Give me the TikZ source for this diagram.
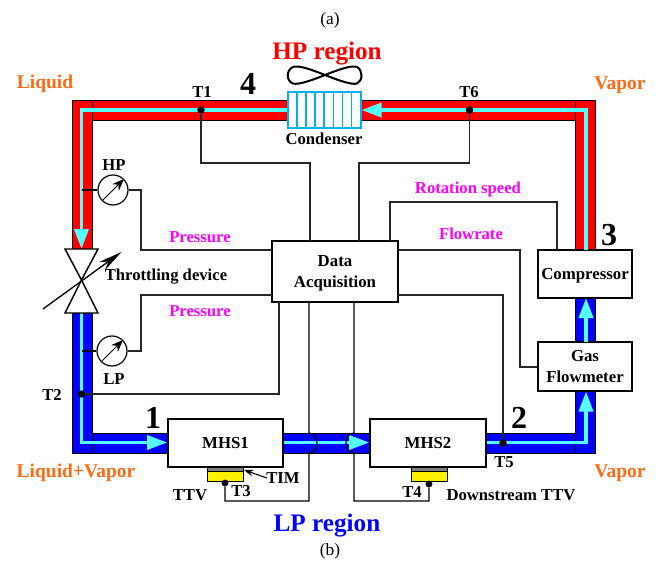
\documentclass[tikz,border=0pt]{standalone}
\usepackage{fontspec}
\setmainfont{Liberation Serif}
\usetikzlibrary{arrows.meta,calc}
\definecolor{flowc}{HTML}{55FFFF}
\definecolor{condc}{HTML}{00B0F0}
\definecolor{orangec}{HTML}{FF6A13}
\definecolor{timc}{HTML}{7F7F7F}
\definecolor{magentac}{HTML}{FF00FF}
\tikzset{
  x=0.75pt,y=-0.75pt,
  pipehot/.style={fill=red,draw=black,line width=0.6pt},
  pipecold/.style={fill=blue,draw=black,line width=0.6pt},
  flowarrow/.style={draw=flowc,line width=2.6pt,-{Triangle[length=15pt,width=10.5pt,fill=flowc]}},
  wire/.style={draw=black!85,line width=0.8pt},
  sensor/.style={circle,fill=black,inner sep=0pt,minimum size=5.2pt},
  box/.style={draw=black,line width=1.2pt,fill=white,inner sep=0pt,align=center,text depth=0pt,font=\bfseries\fontsize{12.6}{15}\selectfont},
  gauge/.style={circle,draw=black,line width=0.9pt,fill=white,inner sep=0pt,minimum size=22.5pt},
  lab/.style={inner sep=0pt,font=\bfseries\fontsize{12.5}{13}\selectfont},
  magentalab/.style={inner sep=0pt,text=magentac,font=\bfseries\fontsize{12.5}{13}\selectfont},
  orangelab/.style={inner sep=0pt,text=orangec,font=\bfseries\fontsize{14.6}{15}\selectfont},
  numlab/.style={inner sep=0pt,font=\bfseries\fontsize{24}{28}\selectfont},
  regionlab/.style={inner sep=0pt,font=\bfseries\fontsize{18.9}{20}\selectfont},
  capt/.style={inner sep=0pt,font=\fontsize{13}{15}\selectfont},
}
\begin{document}
\begin{tikzpicture}
\useasboundingbox (0,0) rectangle (660,563);
% pipes
\draw[pipehot] (92,100) rectangle (288,120);
\draw[pipehot] (72,100) rectangle (92,249);
\draw[pipehot] (361,100) rectangle (575,120);
\draw[pipehot] (575,100) rectangle (595,250);
\draw[pipecold] (72,313) rectangle (92,453);
\draw[pipecold] (92,433) rectangle (168,453);
\draw[pipecold] (283,433) rectangle (370,453);
\draw[pipecold] (486,433) rectangle (575,453);
\draw[pipecold] (575,391) rectangle (595,453);
\draw[pipecold] (575,298) rectangle (595,342);
% condenser
\node[draw=condc,line width=1.2pt,fill=white,minimum width=54.4pt,minimum height=27pt,inner sep=0pt] (cond) at (324.5,110) {};
\foreach \i in {1,...,7} \draw[condc,line width=1.2pt] (288+\i*9.06,92) -- (288+\i*9.06,128);
% fan
\draw[black,line width=1.5pt] (325,75) .. controls (310,69) and (298,65) .. (293,67) .. controls (286,70) and (286,81) .. (293,83.5) .. controls (298,85) and (310,81) .. (325,75)
  .. controls (340,69) and (352,65) .. (357,67) .. controls (363,70) and (363,81) .. (357,83.5) .. controls (352,85) and (340,81) .. (325,75);
% main boxes
\node[box,minimum width=94.5pt,minimum height=45.7pt] (daq) at (335,271.5) {Data\\[1pt]Acquisition};
\node[box,minimum width=70.5pt,minimum height=36pt] (comp) at (585,274) {Compressor};
\node[box,minimum width=70.5pt,minimum height=36.7pt] (gas) at (585,366.5) {Gas\\[1pt]Flowmeter};
\node[box,minimum width=86.3pt,minimum height=36pt] (mhsa) at (225.5,443) {MHS1};
\node[box,minimum width=87pt,minimum height=36pt] (mhsb) at (428,443) {MHS2};
% TTV stacks
\draw[black,line width=0.7pt,fill=timc] (207,467) rectangle (243,471.5);
\draw[black,line width=0.7pt,fill=yellow] (207,471.5) rectangle (243,481);
\draw[black,line width=0.7pt,fill=timc] (411,467) rectangle (447,471.5);
\draw[black,line width=0.7pt,fill=yellow] (411,471.5) rectangle (447,481);
% sensor points
\node[sensor] (tone) at (201,110) {};
\node[sensor] (tsix) at (469.5,110) {};
\node[sensor] (ttwo) at (81.5,394) {};
\node[sensor] (tthree) at (225,483) {};
\node[sensor] (tfour) at (429,484) {};
\node[sensor] (tfive) at (503,443) {};
% flow lines
\coordinate (vtop) at (81.5,249);
\coordinate (vbot) at (81.5,313);
\draw[flowarrow] (cond.west) -- (81.5,110) -- (vtop);
\draw[flowarrow] (vbot) -- (81.5,442.5) -- (mhsa.west |- 0,442.5);
\draw[flowarrow] (mhsa.east |- 0,442.5) -- (mhsb.west |- 0,442.5);
\draw[flowarrow] (mhsb.east |- 0,442.5) -- (586,442.5) -- (586,391.5);
\draw[flowarrow] (586,342) -- (586,298);
\draw[flowarrow] (586,250) -- (586,110) -- (cond.east);
% sensors redrawn above the flow lines
\fill (tone) circle (2.8pt) (tsix) circle (2.8pt) (ttwo) circle (2.8pt) (tfive) circle (2.8pt);
% valve
\coordinate (vmid) at (81.5,280);
\draw[black,line width=1.1pt,fill=white,line join=miter] (65,249) -- (98,249) -- (vmid) -- cycle;
\draw[black,line width=1.1pt,fill=white,line join=miter] (65,313) -- (98,313) -- (vmid) -- cycle;
\coordinate (vtail) at (43,309);
\coordinate (vtip) at (121.5,252);
\draw[black,line width=1pt,-{Stealth[length=18pt,width=7.5pt]}] (vtail) -- (vtip);
% gauges
\node[gauge] (hp) at (113,190) {};
\node[gauge] (lp) at (112,351) {};
\draw[black,line width=0.7pt,-{Stealth[length=9pt,width=7pt]}] (hp.225) -- (hp.45);
\draw[black,line width=0.7pt,-{Stealth[length=9pt,width=7pt]}] (lp.225) -- (lp.45);
\draw[black,line width=0.9pt] (81.5,190) -- (hp.west);
\draw[black,line width=0.9pt] (81.5,351) -- (lp.west);
% wiring
\draw[wire] (tone) -- (201,163) -- (310,163) -- (310,241);
\draw[wire] (tsix) -- (469.5,163) -- (359,163) -- (359,241);
\draw[wire] (hp.east) -- (141,190) -- (141,250) -- (272,250);
\draw[wire] (lp.east) -- (141,351) -- (141,295) -- (272,295);
\draw[wire] (ttwo) -- (279,394) -- (279,302);
\draw[wire] (390,241) -- (390,202) -- (557,202) -- (557,250);
\draw[wire] (398,250) -- (520,250) -- (520,367) -- (gas.west |- 0,367);
\draw[wire] (398,295) -- (503,295) -- (tfive);
\draw[black,line width=0.9pt] (309,302) -- (309,433) arc[start angle=90,end angle=-90,x radius=6pt,y radius=7.5pt] -- (309,501) -- (225,501) -- (tthree);
\draw[black,line width=0.9pt] (354,302) -- (354,433) arc[start angle=90,end angle=270,x radius=6pt,y radius=7.5pt] -- (354,501) -- (429,501) -- (tfour);
\coordinate (timend) at (244,470);
\coordinate (timstart) at (267,478);
\draw[black,line width=0.8pt,-{Stealth[length=7pt,width=5pt]}] (timstart) -- (timend);
% labels
\node[capt] (capa) at (330,20) {(a)};
\node[capt] (capb) at (330,551) {(b)};
\node[regionlab,text=red] (hpr) at (327,54) {HP region};
\node[regionlab,text=blue] (lpr) at (327,526) {LP region};
\node[orangelab] (liq) at (45,84) {Liquid};
\node[orangelab] (vapa) at (620,85) {Vapor};
\node[orangelab] (liqv) at (76,473) {Liquid+Vapor};
\node[orangelab] (vapb) at (620,473) {Vapor};
\node[numlab] (nfour) at (248,84) {4};
\node[numlab] (nthree) at (609,235) {3};
\node[numlab] (none) at (153,418) {1};
\node[numlab] (ntwo) at (519,418) {2};
\node[lab] (lone) at (202,92) {T1};
\node[lab] (lsix) at (469,92) {T6};
\node[lab] (ltwo) at (52,395) {T2};
\node[lab] (lthree) at (241,491) {T3};
\node[lab] (lfour) at (412,492) {T4};
\node[lab] (lfive) at (504,462) {T5};
\node[lab] (lcond) at (324,138.5) {Condenser};
\node[lab] (lhp) at (114,165) {HP};
\node[lab] (llp) at (114,379) {LP};
\node[lab] (lthr) at (166,277) {Throttling device};
\node[lab] (lttv) at (190,495.5) {TTV};
\node[lab] (ltim) at (283,478.5) {TIM};
\node[lab] (ldown) at (511,495.5) {Downstream TTV};
\node[magentalab] (mpa) at (200,237) {Pressure};
\node[magentalab] (mpb) at (200,311) {Pressure};
\node[magentalab] (mrs) at (468,189.5) {Rotation speed};
\node[magentalab] (mfl) at (471,233.5) {Flowrate};
\end{tikzpicture}
\end{document}
